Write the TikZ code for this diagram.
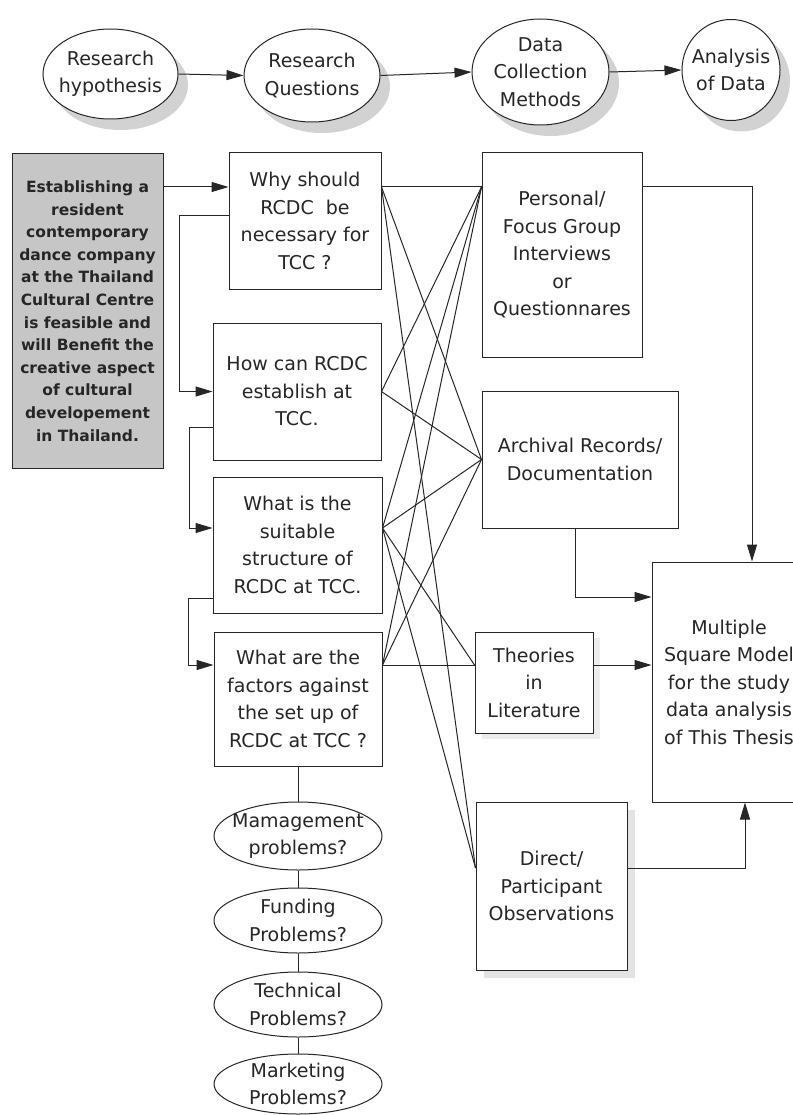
\documentclass[tikz,border=0pt]{standalone}
\usepackage{fontspec}
\setmainfont{DejaVu Sans}
\usetikzlibrary{arrows.meta,shapes,shadows}
\definecolor{ink}{HTML}{262626}
\definecolor{boxgray}{HTML}{C6C6C6}

\begin{document}
\begin{tikzpicture}[x=1pt,y=-1pt,
    every node/.style={text=ink, align=center, font=\fontsize{19}{27.5}\selectfont},
    qbox/.style={draw=ink, line width=1pt, rectangle, inner sep=0pt, fill=white},
    oval/.style={draw=ink, line width=1pt, ellipse, inner sep=0pt, fill=white},
    ovalshadow/.style={drop shadow={shadow xshift=10pt, shadow yshift=-11pt, fill=black!35}},
    arr/.style={draw=ink, line width=1pt, -{Triangle[length=17pt,width=10pt]}},
    link/.style={draw=ink, line width=1pt}]
    \useasboundingbox (0,0) rectangle (792,1115);

    \node[oval, ovalshadow, minimum width=135, minimum height=90, label=center:{Research\\hypothesis}] (hyp) at (110.5,74) {};
    \node[oval, ovalshadow, minimum width=136, minimum height=93, label=center:{Research\\Questions}] (rq) at (312,75.5) {};
    \node[oval, ovalshadow, minimum width=137, minimum height=106, label=center:{Data\\Collection\\Methods}] (dcm) at (540.5,72) {};
    \node[oval, ovalshadow, minimum width=98, minimum height=101, label=center:{Analysis\\of Data}] (aod) at (731,70) {};

    \draw[arr] (hyp.east) -- (rq.west);
    \draw[arr] (rq.east) -- (dcm.west);
    \draw[arr] (dcm.east) -- (aod.west);

    \node[qbox, fill=boxgray, minimum width=151, minimum height=314,
          font=\fontsize{15.5}{22.6}\selectfont\bfseries] (hypbox) at (87.5,311)
          {Establishing a\\resident\\contemporary\\dance company\\at the Thailand\\Cultural Centre\\is feasible and\\will Benefit the\\creative aspect\\of cultural\\developement\\in Thailand.};

    \node[qbox, minimum width=152, minimum height=136] (Q1) at (305,221) {Why should\\RCDC\ \ be\\necessary for\\TCC ?};
    \node[qbox, minimum width=168, minimum height=137] (Q2) at (297,391.5) {How can RCDC\\establish at\\TCC.};
    \node[qbox, minimum width=169, minimum height=136] (Q3) at (297.5,545) {What is the\\suitable\\structure of\\RCDC at TCC.};
    \node[qbox, minimum width=168, minimum height=134] (Q4) at (298,699) {What are the\\factors against\\the set up of\\RCDC at TCC ?};

    \node[qbox, minimum width=160, minimum height=204] (P) at (562,255) {Personal/\\Focus Group\\Interviews\\or\\Questionnares};
    \node[qbox, minimum width=196, minimum height=137] (A) at (580,459.5) {Archival Records/\\Documentation};
    \node[qbox, minimum width=118, minimum height=101, drop shadow={shadow xshift=7pt, shadow yshift=-6pt, fill=black!15}] (T) at (534,682.5) {Theories\\in\\Literature};
    \node[qbox, minimum width=151, minimum height=168, drop shadow={shadow xshift=8pt, shadow yshift=-8pt, fill=black!22}] (D) at (551.5,886) {Direct/\\Participant\\Observations};
    \node[qbox, minimum width=154, minimum height=240] (M) at (729,682) {Multiple\\Square Model\\for the study\\data analysis\\of This Thesis};

    \node[oval, minimum width=168, minimum height=68, label=center:{Mamagement\\problems?}] (mgmt) at (298,836) {};
    \node[oval, minimum width=168, minimum height=65, label=center:{Funding\\Problems?}] (fund) at (298,920.5) {};
    \node[oval, minimum width=168, minimum height=65, label=center:{Technical\\Problems?}] (tech) at (298,1004.5) {};
    \node[oval, minimum width=168, minimum height=60, label=center:{Marketing\\Problems?}] (mark) at (298,1084) {};

    \coordinate (q1r) at ([yshift=34pt]Q1.east);
    \coordinate (q2r) at (Q2.east);
    \coordinate (q3r) at ([yshift=17pt]Q3.east);
    \coordinate (q4r) at ([yshift=34pt]Q4.east);
    \coordinate (perin) at (P.west |- q1r);
    \coordinate (arcin) at (A.west);
    \coordinate (thein) at (T.west |- q4r);
    \coordinate (dirin) at ([yshift=18pt]D.west);

    \draw[arr] (hypbox.east |- q1r) -- (Q1.west |- q1r);
    \draw[arr] ([yshift=5pt]Q1.west) -- ++(-49,0) |- (Q2.west);
    \draw[arr] ([yshift=-36pt]Q2.west) -- ++(-23,0) |- (Q3.west |- q3r);
    \draw[arr] ([yshift=-53pt]Q3.west) -- ++(-24,0) |- (Q4.west |- q4r);

    \foreach \a/\b in {q1r/perin, q1r/arcin, q1r/dirin, q2r/perin, q2r/arcin,
                       q3r/perin, q3r/arcin, q3r/thein, q3r/dirin,
                       q4r/perin, q4r/arcin, q4r/thein}
        \draw[link] (\a) -- (\b);

    \draw[arr] (P.east |- q1r) -| ([xshift=23pt]M.north);
    \draw[arr] ([xshift=-5pt]A.south) |- ([yshift=85pt]M.west);
    \draw[arr] (T.east |- thein) -- (M.west |- thein);
    \draw[arr] (D.east |- dirin) -| ([xshift=16pt]M.south);

    \draw[link] (Q4.south) -- (mgmt.north);
    \draw[link] (mgmt.south) -- (fund.north);
    \draw[link] (fund.south) -- (tech.north);
    \draw[link] (tech.south) -- (mark.north);
\end{tikzpicture}
\end{document}
